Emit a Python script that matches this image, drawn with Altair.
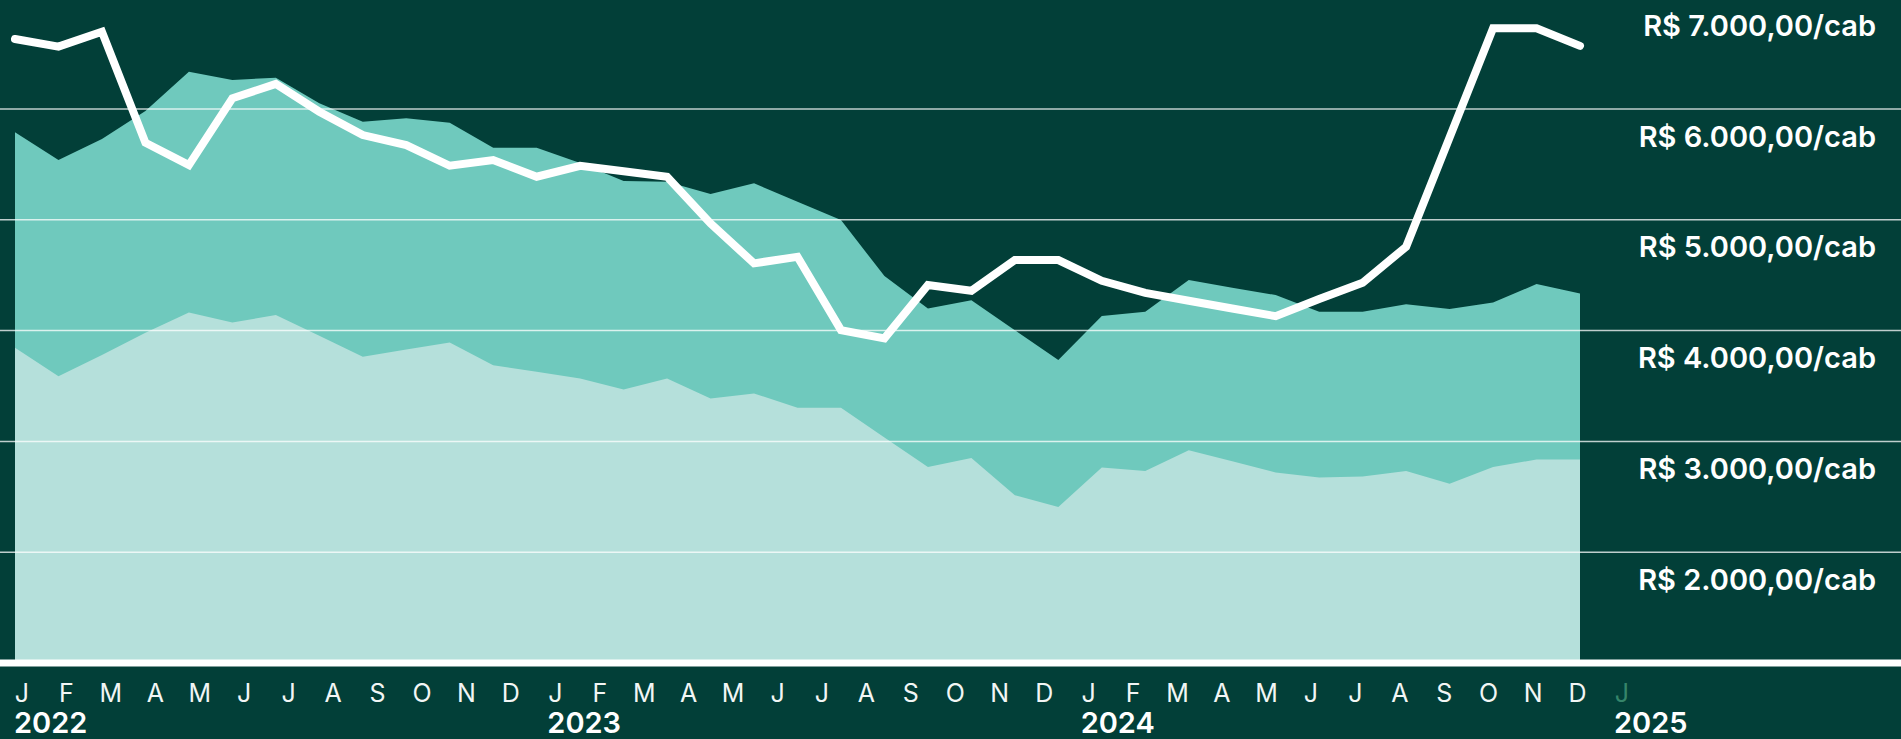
import altair as alt
import pandas as pd

# ---- data ----
month_letters = ["J", "F", "M", "A", "M", "J", "J", "A", "S", "O", "N", "D"] * 3 + ["J"]
month_colors = ["#f2f6f5"] * 36 + ["#35856a"]
year_labels = ["2022", "2023", "2024", "2025"]
year_positions = [0, 12, 24, 36]

price_line = [6632, 6563, 6698, 5696, 5494, 6097, 6226, 5976, 5765, 5675, 5488, 5540,
              5389, 5487, 5438, 5389, 4968, 4607, 4666, 4005, 3930, 4411, 4359, 4637,
              4637, 4450, 4340, 4270, 4200, 4130, 4285, 4432, 4757, 5743, 6729, 6729,
              6570]
upper_area = [5790, 5540, 5729, 5982, 6337, 6262, 6283, 6051, 5885, 5916, 5876, 5651,
              5651, 5512, 5350, 5344, 5233, 5329, 5163, 4998, 4492, 4200, 4275, 4004,
              3734, 4131, 4170, 4456, 4388, 4321, 4170, 4170, 4239, 4194, 4254, 4420,
              4336]
lower_area = [3845, 3589, 3781, 3980, 4164, 4074, 4140, 3953, 3763, 3830, 3893, 3688,
              3628, 3568, 3469, 3568, 3388, 3433, 3303, 3303, 3036, 2770, 2851, 2515,
              2409, 2765, 2734, 2921, 2822, 2720, 2675, 2684, 2734, 2617, 2768, 2837,
              2837]
grid_values = [2000, 3000, 4000, 5000, 6000, 7000]
grid_labels = ["R$ 2.000,00/cab", "R$ 3.000,00/cab", "R$ 4.000,00/cab",
               "R$ 5.000,00/cab", "R$ 6.000,00/cab", "R$ 7.000,00/cab"]
baseline_value = [1000]

# ---- styling ----
BG = "#023f38"
W, H = 1901, 663
Y_DOMAIN = [1000, 6984]
X_DOMAIN = [-0.34505, 43.384]
L_DOMAIN = [-0.495, 42.278]
FONT = "Inter"

n = len(price_line)
df = pd.DataFrame({
    "i": list(range(n)),
    "line": price_line,
    "upper": upper_area,
    "lower": lower_area,
    "base": [baseline_value[0]] * n,
})
gdf = pd.DataFrame({"v": grid_values, "label": grid_labels})
bdf = pd.DataFrame({"v": baseline_value})
mdf = pd.DataFrame({"k": list(range(len(month_letters))), "m": month_letters, "c": month_colors})
ydf = pd.DataFrame({"k": year_positions, "yr": year_labels})

yscale = alt.Scale(domain=Y_DOMAIN, nice=False, zero=False)
xscale = alt.Scale(domain=X_DOMAIN, nice=False, zero=False)
lscale = alt.Scale(domain=L_DOMAIN, nice=False, zero=False)

base = alt.Chart(df)
upper = base.mark_area(color="#6fc9bd", opacity=1).encode(
    x=alt.X("i:Q", scale=xscale, axis=None),
    y=alt.Y("upper:Q", scale=yscale, axis=None, stack=None),
    y2="base:Q",
)
lower = base.mark_area(color="#b5e0db", opacity=1).encode(
    x=alt.X("i:Q", scale=xscale, axis=None),
    y=alt.Y("lower:Q", scale=yscale, axis=None, stack=None),
    y2="base:Q",
)
grid = alt.Chart(gdf).mark_rule(color="white", opacity=0.75, strokeWidth=1.5).encode(
    y=alt.Y("v:Q", scale=yscale, axis=None),
    x=alt.value(0),
    x2=alt.value(W),
)
baseline = alt.Chart(bdf).mark_rule(color="white", strokeWidth=7).encode(
    y=alt.Y("v:Q", scale=yscale, axis=None),
    x=alt.value(0),
    x2=alt.value(W),
)
line = base.mark_line(color="white", strokeWidth=8, strokeCap="round", strokeJoin="miter").encode(
    x=alt.X("i:Q", scale=xscale, axis=None),
    y=alt.Y("line:Q", scale=yscale, axis=None),
)
ylabels = alt.Chart(gdf).mark_text(
    align="right", baseline="alphabetic", dy=37.5, font=FONT, fontSize=29,
    fontWeight=600, color="white",
).encode(
    y=alt.Y("v:Q", scale=yscale, axis=None),
    x=alt.value(1876),
    text="label:N",
)
months = alt.Chart(mdf).mark_text(
    align="center", baseline="alphabetic", font=FONT, fontSize=25, fontWeight=400,
).encode(
    x=alt.X("k:Q", scale=lscale, axis=None),
    y=alt.value(702),
    text="m:N",
    color=alt.Color("c:N", scale=None, legend=None),
)
years = alt.Chart(ydf).mark_text(
    align="left", baseline="alphabetic", dx=-8, font=FONT, fontSize=29,
    fontWeight=600, color="white",
).encode(
    x=alt.X("k:Q", scale=lscale, axis=None),
    y=alt.value(733),
    text="yr:N",
)

chart = (
    alt.layer(upper, lower, grid, baseline, line, ylabels, months, years)
    .resolve_scale(x="independent")
    .properties(
        width=W,
        height=H,
        background=BG,
        padding={"left": 0, "top": 0, "right": 0, "bottom": 76},
        autosize=alt.AutoSizeParams(type="none"),
    )
    .configure_view(stroke=None)
)

chart.save(
    "out.html",
    embed_options={
        "renderer": "svg",
        "actions": False,
        "defaultStyle": "body{margin:0;background:#023f38;overflow:hidden}.vega-embed svg{display:block}",
    },
)
